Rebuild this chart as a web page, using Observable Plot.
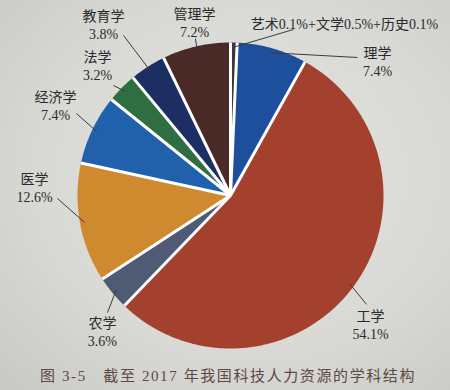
<!DOCTYPE html>
<html><head><meta charset="utf-8">
<script src="https://cdn.jsdelivr.net/npm/d3@7"></script>
<script src="https://cdn.jsdelivr.net/npm/@observablehq/plot@0.6"></script>
<style>
html,body{margin:0;padding:0;}
body{width:450px;height:390px;overflow:hidden;position:relative;
background:radial-gradient(ellipse at 55% 45%, #e4e4e1 0%, #d8d8d5 60%, #c8c9c5 100%);}
#chart{position:absolute;left:0;top:0;}
#caption{position:absolute;left:40px;top:366px;font-family:"Liberation Serif","Noto Sans CJK SC",serif;font-size:15px;letter-spacing:1.6px;line-height:20px;color:#5e4842;white-space:pre;}
</style></head><body>
<div id="chart"></div>
<div id="caption">图 3-5　截至 2017 年我国科技人力资源的学科结构</div>
<script>
const subjects = ["艺术","文学","历史","理学","工学","农学","医学","经济学","法学","教育学","管理学"];
const shares   = [0.1, 0.5, 0.1, 7.4, 54.1, 3.6, 12.6, 7.4, 3.2, 3.8, 7.2];
const sliceColors = ["#3a3a3a","#3a3a3a","#3a3a3a","#1d4f9c","#a4412e","#4f5a75","#cf8a30","#2160ab","#2f6e40","#1d2e62","#4a2a26"];

// label layout (in pie-radius units): text centre (tx,ty), leader end (lx,ly)
const labelLayout = [
  {group:["艺术","文学","历史"], tx:0.745, ty:1.124, lx:0.412, ly:1.085},
  {group:["理学"],   tx:0.961, ty:0.879, lx:0.830, ly:0.902},
  {group:["工学"],   tx:0.915, ty:-0.843, lx:0.889, ly:-0.712},
  {group:["农学"],   tx:-0.837, ty:-0.889, lx:-0.804, ly:-0.765},
  {group:["医学"],   tx:-1.281, ty:0.052, lx:-1.131, ly:-0.020},
  {group:["经济学"], tx:-1.144, ty:0.588, lx:-1.007, ly:0.536},
  {group:["法学"],   tx:-0.869, ty:0.850, lx:-0.765, ly:0.719},
  {group:["教育学"], tx:-0.830, ty:1.118, lx:-0.699, ly:1.046},
  {group:["管理学"], tx:-0.235, ty:1.134, lx:-0.229, ly:1.026}
];

const arcs = d3.pie().sort(null).value(d => d)(shares);
const polys = [];
arcs.forEach((p, i) => {
  const n = Math.max(2, Math.ceil((p.endAngle - p.startAngle) / (Math.PI / 360)));
  polys.push({name: subjects[i], x: 0, y: 0});
  for (let k = 0; k <= n; k++) {
    const a = p.startAngle + (p.endAngle - p.startAngle) * k / n;
    polys.push({name: subjects[i], x: Math.sin(a), y: Math.cos(a)});
  }
  polys.push({name: subjects[i], x: 0, y: 0});
});
// separators only where neighbouring slices differ in colour
const seps = arcs.filter((p, i) => sliceColors[i] !== sliceColors[(i - 1 + arcs.length) % arcs.length]);

const leaders = labelLayout.map(l => {
  const idx = l.group.map(g => subjects.indexOf(g));
  const a0 = arcs[idx[0]].startAngle, a1 = arcs[idx[idx.length - 1]].endAngle;
  const m = (a0 + a1) / 2;
  const text = l.group.length > 1
    ? idx.map(i => subjects[i] + shares[i].toFixed(1) + "%").join("+")
    : subjects[idx[0]] + "\n" + shares[idx[0]].toFixed(1) + "%";
  return {x1: 0.97 * Math.sin(m), y1: 0.97 * Math.cos(m), x2: l.lx, y2: l.ly, tx: l.tx, ty: l.ty, text};
});

const font = "'Liberation Serif','Noto Sans CJK SC',serif";
const chart = Plot.plot({
  width: 450, height: 360,
  marginLeft: 77, marginRight: 67, marginTop: 42, marginBottom: 12,
  x: {domain: [-1, 1], axis: null},
  y: {domain: [-1, 1], axis: null},
  color: {domain: subjects, range: sliceColors},
  style: {background: "transparent", overflow: "visible"},
  marks: [
    Plot.line(polys, {x: "x", y: "y", z: "name", fill: "name", stroke: "none"}),
    Plot.link(seps, {x1: 0, y1: 0, x2: p => Math.sin(p.startAngle), y2: p => Math.cos(p.startAngle), stroke: "white", strokeWidth: 3}),
    Plot.link(leaders, {x1: "x1", y1: "y1", x2: "x2", y2: "y2", stroke: "#3a3a3a", strokeWidth: 1}),
    Plot.text(leaders, {x: "tx", y: "ty", text: "text", fontSize: 14, lineHeight: 1.3, fill: "#2b2b2b", fontFamily: font})
  ]
});
document.getElementById("chart").appendChild(chart);
</script>
</body></html>
